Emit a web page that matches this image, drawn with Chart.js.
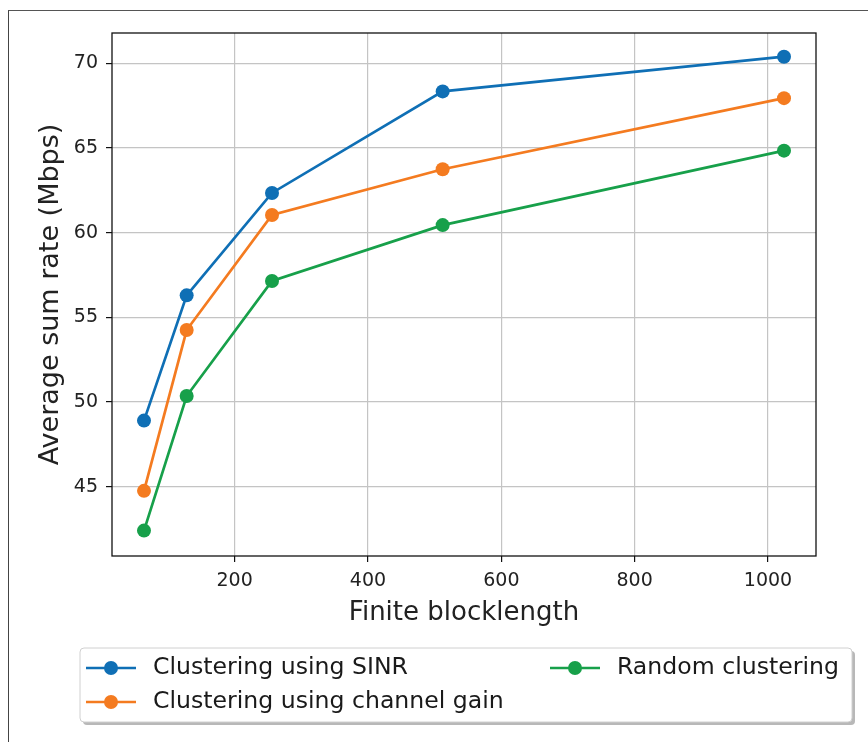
<!DOCTYPE html>
<html>
<head>
<meta charset="utf-8">
<title>Average sum rate vs finite blocklength</title>
<script src="https://cdn.jsdelivr.net/npm/chart.js@4"></script>
<style>
  body { margin: 0; background: #fff; }
  #wrap { position: relative; width: 868px; height: 742px; }
  #frame { position: absolute; left: 8px; top: 10px; right: -10px; bottom: -10px;
           border-left: 1.5px solid #444; border-top: 1.5px solid #555; }
  #myChart { position: absolute; left: 0; top: 0; }
</style>
</head>
<body>
<div id="wrap">
  <div id="frame"></div>
  <canvas id="myChart" width="868" height="742"></canvas>
</div>
<script>
const blocklengths = [64, 128, 256, 512, 1024]
const sinrRate = [48.9, 56.3, 62.35, 68.35, 70.4]
const gainRate = [44.75, 54.25, 61.05, 63.75, 67.95]
const randomRate = [42.4, 50.35, 57.15, 60.45, 64.85]
const seriesNames = ['Clustering using SINR', 'Clustering using channel gain', 'Random clustering']
const seriesColors = ['#0f6fb5', '#f47b20', '#17a04a']
const xTicks = [200, 400, 600, 800, 1000]
const yTicks = [45, 50, 55, 60, 65, 70]

const FONT = "'DejaVu Sans', sans-serif"

function points(ys) {
    return blocklengths.map((x, i) => ({x: x, y: ys[i]}))
}

// black box round the plot area, like the axes spines
const frameBox = {
    id: 'frameBox',
    afterDatasetsDraw(chart) {
        const a = chart.chartArea
        const ctx = chart.ctx
        ctx.save()
        ctx.strokeStyle = '#111'
        ctx.lineWidth = 1.3
        ctx.strokeRect(a.left, a.top, a.right - a.left, a.bottom - a.top)
        ctx.restore()
    }
}

// two-column legend in a shadowed box below the axis
const legendBox = {
    id: 'legendBox',
    afterDraw(chart) {
        const ctx = chart.ctx
        const bx = 80, by = 648, bw = 772, bh = 74
        ctx.save()
        ctx.fillStyle = '#b8b8b8'
        roundRect(ctx, bx + 3, by + 3, bw, bh, 4)
        ctx.fill()
        ctx.fillStyle = '#fff'
        ctx.strokeStyle = '#d0d0d0'
        ctx.lineWidth = 1
        roundRect(ctx, bx, by, bw, bh, 4)
        ctx.fill()
        ctx.stroke()

        const slots = [[86, 668], [86, 702], [550, 668]]
        chart.data.datasets.forEach((ds, i) => {
            const [x, y] = slots[i]
            ctx.strokeStyle = ds.borderColor
            ctx.lineWidth = 2.7
            ctx.beginPath()
            ctx.moveTo(x, y)
            ctx.lineTo(x + 50, y)
            ctx.stroke()
            ctx.fillStyle = ds.backgroundColor
            ctx.beginPath()
            ctx.arc(x + 25, y, 7, 0, Math.PI * 2)
            ctx.fill()
            ctx.fillStyle = '#1a1a1a'
            ctx.font = '23.6px ' + FONT
            ctx.textBaseline = 'middle'
            ctx.fillText(ds.label, x + 67, y)
        })
        ctx.restore()
    }
}

function roundRect(ctx, x, y, w, h, r) {
    ctx.beginPath()
    ctx.moveTo(x + r, y)
    ctx.lineTo(x + w - r, y)
    ctx.quadraticCurveTo(x + w, y, x + w, y + r)
    ctx.lineTo(x + w, y + h - r)
    ctx.quadraticCurveTo(x + w, y + h, x + w - r, y + h)
    ctx.lineTo(x + r, y + h)
    ctx.quadraticCurveTo(x, y + h, x, y + h - r)
    ctx.lineTo(x, y + r)
    ctx.quadraticCurveTo(x, y, x + r, y)
    ctx.closePath()
}

function makeChart() {
    const ctx = document.getElementById('myChart')
    const series = [sinrRate, gainRate, randomRate]
    new Chart(ctx, {
        type: 'line',
        data: {
            datasets: series.map((ys, i) => ({
                label: seriesNames[i],
                data: points(ys),
                borderColor: seriesColors[i],
                backgroundColor: seriesColors[i],
                borderWidth: 2.7,
                pointRadius: 7,
                pointHoverRadius: 7,
                pointBorderWidth: 0,
                order: 3 - i
            }))
        },
        options: {
            responsive: false,
            animation: false,
            devicePixelRatio: 1,
            layout: {
                padding: {left: 31, right: 52, top: 33, bottom: 109}
            },
            plugins: {
                legend: {display: false},
                tooltip: {enabled: false}
            },
            scales: {
                x: {
                    type: 'linear',
                    min: 16,
                    max: 1072,
                    afterBuildTicks: (scale) => { scale.ticks = xTicks.map(v => ({value: v})) },
                    afterFit: (scale) => { scale.height = 77 },
                    grid: {color: '#c4c4c4', lineWidth: 1.2, tickColor: '#111', tickLength: 6},
                    border: {display: false},
                    ticks: {
                        color: '#222',
                        padding: 8,
                        maxRotation: 0,
                        font: {family: FONT, size: 19},
                        callback: (v) => String(v)
                    },
                    title: {
                        display: true,
                        text: 'Finite blocklength',
                        color: '#222',
                        font: {family: FONT, size: 26}
                    }
                },
                y: {
                    min: 40.9,
                    max: 71.8,
                    afterBuildTicks: (scale) => { scale.ticks = yTicks.map(v => ({value: v})) },
                    afterFit: (scale) => { scale.width = 81 },
                    grid: {color: '#c4c4c4', lineWidth: 1.2, tickColor: '#111', tickLength: 6},
                    border: {display: false},
                    ticks: {
                        color: '#222',
                        padding: 8,
                        font: {family: FONT, size: 19},
                        callback: (v) => String(v)
                    },
                    title: {
                        display: true,
                        text: 'Average sum rate (Mbps)',
                        color: '#222',
                        font: {family: FONT, size: 27}
                    }
                }
            }
        },
        plugins: [frameBox, legendBox]
    })
}
makeChart()
</script>
</body>
</html>
